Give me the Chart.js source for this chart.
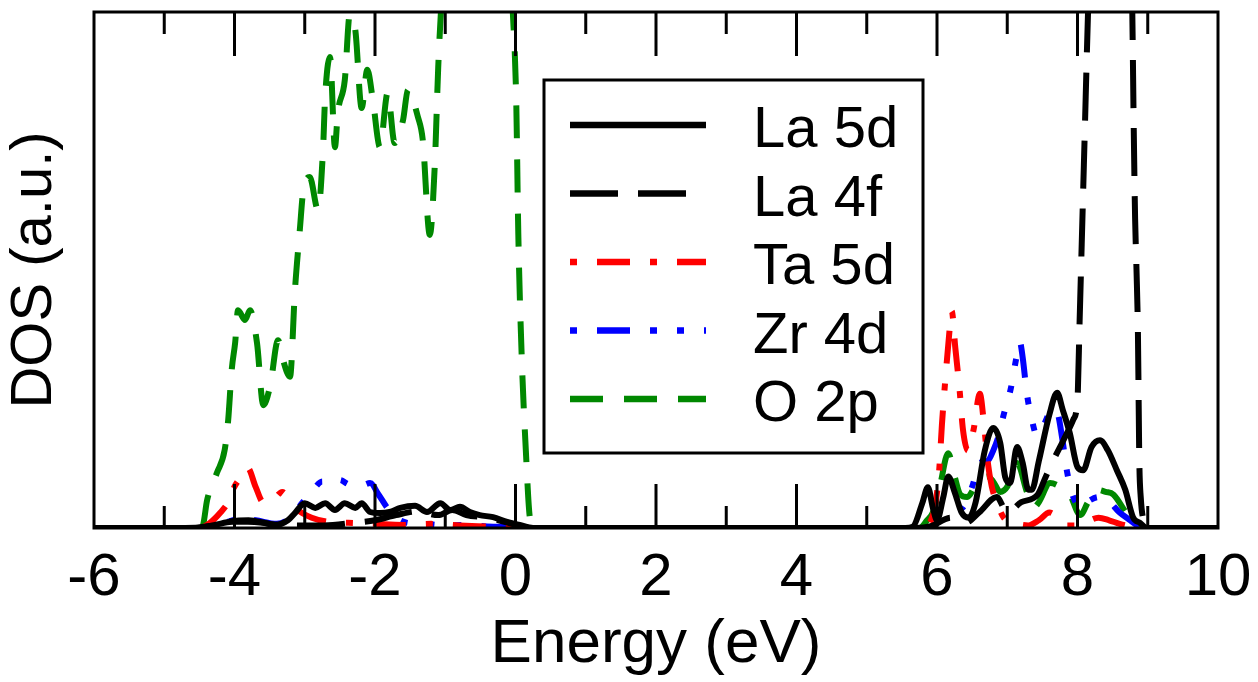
<!DOCTYPE html>
<html>
<head>
<meta charset="utf-8">
<script src="https://cdn.jsdelivr.net/npm/chart.js@4.4.0/dist/chart.umd.min.js"></script>
<style>
html,body{margin:0;padding:0;background:#fff;}
#wrap{width:1258px;height:682px;}
</style>
</head>
<body>
<div id="wrap"><canvas id="dos" width="1258" height="682"></canvas></div>
<script>
// Energias (eV) e DOS (u.a.)
const la5dE   = [-6,-4.56,-4.28,-4.04,-3.81,-3.6,-3.42,-3.24,-3.14,-3.0,-2.85,-2.71,-2.57,-2.43,-2.28,-2.19,-2.07,-1.93,-1.79,-1.64,-1.43,-1.26,-1.07,-0.93,-0.79,-0.65,-0.51,-0.32,-0.12,0.06,0.25,
                 5.55,5.66,5.79,5.87,5.94,6.0,6.09,6.16,6.25,6.35,6.45,6.55,6.68,6.8,6.9,6.97,7.04,7.14,7.22,7.3,7.35,7.45,7.6,7.71,7.79,7.89,8.0,8.08,8.2,8.32,8.43,8.56,8.68,8.79,8.89,8.99,10];
const la5dDos = [0,0,0.6,1.2,1.2,1,0.6,1.5,2.9,4.8,3.9,4.8,3.5,4.8,3.9,4.8,3.1,2.9,3.1,3.9,4.3,3.1,4.8,3.5,4.1,3.1,2.5,2.1,1.2,0.6,0,
                 0,0.3,4.8,7.9,4,1.5,6,10,7,3,2,5,15,19.4,16.5,9.9,8.7,15.7,12.6,7.4,7.4,13,22,26.2,22.9,18.4,11.8,11.2,15.7,17,15.1,11.2,7.4,2.1,1,0,0];

const la4fE   = [-6,-4.7,-4.4,-4.1,-3.8,-3.5,-3.2,-2.9,-2.6,-2.3,-2.0,-1.7,-1.4,-1.1,-0.9,-0.7,-0.4,-0.1,0.2,
                 5.7,5.9,6.2,6.4,6.6,6.85,7.0,7.2,7.43,7.55,7.68,7.8,7.94,8.0,8.03,8.06,8.1,8.15,8.3,8.5,8.7,8.78,8.8,8.82,8.84,8.86,8.88,8.9,8.95,9.0,10];
const la4fDos = [0,0,0.3,1.2,1.5,0.8,0.5,0.5,0.6,1,1.5,2.5,3.2,2.5,3.5,2.5,2,1,0,
                 0,0.3,2,1,3,6,3,5,6.4,10,13.8,17,21,25,40,55,75,100,160,190,150,100,78,60,50,38,13,6,1,0,0];

const ta5dE   = [-6,-4.5,-4.35,-4.2,-4.09,-4.0,-3.9,-3.81,-3.7,-3.59,-3.45,-3.32,-3.2,-3.1,-2.9,-2.67,-2.38,-2.0,-1.6,-1.2,-0.8,-0.4,0,0.2,
                 5.8,5.9,5.97,6.03,6.07,6.12,6.17,6.21,6.26,6.32,6.37,6.44,6.52,6.61,6.67,6.72,6.78,6.85,6.95,7.1,7.3,7.45,7.6,7.72,7.85,8.0,8.1,8.3,8.45,8.6,8.8,8.95,10];
const ta5dDos = [0,0,1,3,5,8,10,11.6,8,5,5.5,7,5,3.5,2,1.2,1,0.8,0.6,0.8,0.5,0.3,0.1,0,
                 0,1,4,11,20,29,37,42,35,27,19,15,19,26,20,13,8,5,2,1,0.5,1.5,3,2,0.5,0.5,1,2,1.5,0.8,0.2,0,0];

const zr4dE   = [-6,-4.6,-4.35,-4.1,-3.9,-3.7,-3.4,-3.2,-3.04,-2.9,-2.75,-2.65,-2.5,-2.38,-2.2,-2.07,-1.95,-1.83,-1.7,-1.54,-1.3,-1.0,-0.7,-0.4,0,0.2,
                 5.85,5.95,6.05,6.2,6.37,6.5,6.61,6.72,6.8,6.88,6.95,7.05,7.13,7.18,7.22,7.28,7.35,7.42,7.52,7.64,7.71,7.78,7.85,7.94,8.05,8.18,8.3,8.43,8.6,8.75,8.85,8.93,10];
const zr4dDos = [0,0,0.3,1.2,1.8,1.5,0.8,2,4.8,7,9,8.5,9.3,8.5,8.2,8.7,6.5,4,2,1,0.8,0.5,0.6,0.3,0.2,0,
                 0,0.5,1.5,3,4,8,12.6,13,15,18,22,27,33,36,33,26,21,18,20,23,22.5,17.6,11,6,4,5.4,6,5.4,3,1.5,0.5,0,0];

const o2pE    = [-6,-4.5,-4.45,-4.39,-4.25,-4.14,-4.09,-4.04,-3.99,-3.95,-3.85,-3.78,-3.68,-3.59,-3.49,-3.38,-3.31,-3.21,-3.14,-3.07,-3.02,-2.93,-2.81,-2.74,-2.71,-2.64,-2.57,-2.53,-2.43,-2.36,-2.28,-2.19,-2.11,-2.03,-1.93,-1.82,-1.72,-1.6,-1.53,-1.39,-1.32,-1.22,-1.15,-1.1,-1.06,-0.9,-0.6,-0.3,-0.1,-0.04,0.01,0.04,0.09,0.14,0.21,0.28,
                 5.75,5.86,5.94,6.04,6.16,6.25,6.33,6.43,6.57,6.72,6.8,6.9,7.0,7.14,7.28,7.38,7.45,7.61,7.75,7.89,8.04,8.15,8.28,8.4,8.51,8.7,8.85,8.99,10];
const o2pDos  = [0,0,0.5,5.4,10.7,15.1,20.9,30.6,36,42.2,40.3,42.2,35.9,23.8,27.7,36.4,32.6,29.3,46,57.8,65.5,68,61.6,73.3,83.5,91.3,73.8,80.4,86.8,99.4,96.5,81.4,88.8,82.9,73.8,84.3,74.6,79.1,84.9,79.7,75.2,56.8,70,89.3,100.4,130,150,140,115,100.4,83,57,32.6,17,1.5,0,
                 0,1.5,3,8,14.5,10,6.5,6,8.7,10,9,7,8,12.6,7,4,5,8.7,8,6.5,2.5,5,7.4,7,6.5,2.8,0.3,0,0];

const labels  = ['La 5d','La 4f','Ta 5d','Zr 4d','O 2p'];
const cores   = ['#000000','#000000','#ff0000','#0000ff','#008800'];
const tracos  = [[],[48,20],[7,20,33,20],[7,20,33,20,7,20,7,20],[33,21]];

const FONT = '"Liberation Sans", Arial, Helvetica, sans-serif';

function pts(es, vs){ return es.map((e,i)=>({x:e, y:vs[i]})); }

const dados = [pts(la5dE,la5dDos), pts(la4fE,la4fDos), pts(ta5dE,ta5dDos), pts(zr4dE,zr4dDos), pts(o2pE,o2pDos)];

// moldura, marcas internas e legenda
const moldura = {
    id:'moldura',
    afterDatasetsDraw(chart){
        const {ctx, chartArea:a, scales:{x}} = chart;
        ctx.save();
        ctx.strokeStyle = '#000'; ctx.lineWidth = 3; ctx.lineCap = 'butt'; ctx.setLineDash([]);
        for(let e=-5; e<=9; e++){
            const px = x.getPixelForValue(e);
            const len = (e % 2 === 0) ? 44 : 22;
            ctx.beginPath();
            ctx.moveTo(px, a.top); ctx.lineTo(px, a.top + len);
            ctx.moveTo(px, a.bottom); ctx.lineTo(px, a.bottom - len);
            ctx.stroke();
        }
        ctx.strokeRect(a.left, a.top, a.right - a.left, a.bottom - a.top);

        // legenda
        const bx = 544, by = 80, bw = 379, bh = 373;
        ctx.fillStyle = '#fff'; ctx.fillRect(bx, by, bw, bh);
        ctx.strokeRect(bx, by, bw, bh);
        ctx.font = '58px ' + FONT;
        ctx.textBaseline = 'alphabetic'; ctx.textAlign = 'left';
        labels.forEach((lab,i)=>{
            const y = 125 + i*68.5;
            ctx.strokeStyle = cores[i]; ctx.lineWidth = 6.5;
            ctx.setLineDash(tracos[i]);
            ctx.beginPath(); ctx.moveTo(570, y); ctx.lineTo(706, y); ctx.stroke();
            ctx.setLineDash([]);
            ctx.fillStyle = '#000';
            ctx.fillText(lab, 753, y + 22);
        });
        ctx.restore();
    }
};

new Chart(document.getElementById('dos'), {
    type:'line',
    data:{
        datasets: labels.map((lab,i)=>({
            label: lab,
            data: dados[i],
            borderColor: cores[i],
            borderWidth: 6,
            borderDash: tracos[i],
            pointRadius: 0,
            fill: false,
            cubicInterpolationMode: 'monotone'
        }))
    },
    options:{
        responsive:false,
        animation:false,
        events:[],
        layout:{padding:{top:12, right:40, left:0, bottom:0}},
        plugins:{legend:{display:false}, tooltip:{enabled:false}},
        scales:{
            x:{
                type:'linear', min:-6, max:10,
                grid:{display:false, drawTicks:false},
                border:{display:false},
                ticks:{stepSize:2, color:'#000', padding:14, font:{family:FONT, size:60}, maxRotation:0, autoSkip:false},
                title:{display:true, text:'Energy (eV)', color:'#000', font:{family:FONT, size:62}, padding:{top:0, bottom:0}},
                afterFit(s){ s.height = 154; s.paddingLeft = 0; s.paddingRight = 0; }
            },
            y:{
                min:0, max:100,
                grid:{display:false, drawTicks:false},
                border:{display:false},
                ticks:{display:false},
                title:{display:true, text:'DOS (a.u.)', color:'#000', font:{family:FONT, size:58}, padding:{top:0, bottom:0}},
                afterFit(s){ s.width = 94; s.paddingTop = 0; s.paddingBottom = 0; }
            }
        }
    },
    plugins:[moldura]
});
</script>
</body>
</html>
